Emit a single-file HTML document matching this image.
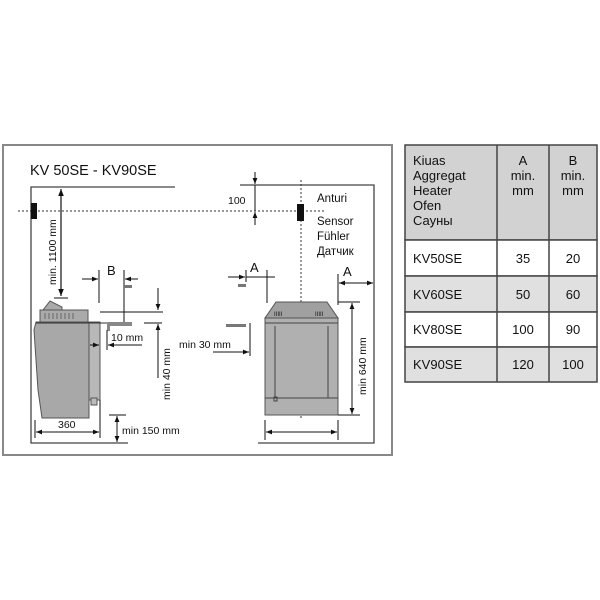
<!DOCTYPE html>
<html><head><meta charset="utf-8"><style>
html,body{margin:0;padding:0;background:#fff;}
svg{display:block;}
text{font-family:"Liberation Sans","DejaVu Sans",sans-serif;fill:#111;}
</style></head><body>
<svg width="600" height="600" viewBox="0 0 600 600" xmlns="http://www.w3.org/2000/svg">
<defs>
<marker id="ar" viewBox="0 0 10 10" refX="10" refY="5" markerWidth="6" markerHeight="6" orient="auto-start-reverse"><path d="M0,1 L10,5 L0,9 z" fill="#111"/></marker>
</defs>
<rect x="3" y="145" width="389" height="310" fill="#fff" stroke="#888" stroke-width="2"/>
<text x="30" y="175" font-size="14.5">KV 50SE - KV90SE</text>
<g stroke="#444" stroke-width="1.3" fill="none">
<polyline points="175,187 31,187 31,443 128,443"/>
<polyline points="240,185 374,185 374,443 258,443"/>
</g>
<line x1="18" y1="211" x2="325" y2="211" stroke="#333" stroke-width="1" stroke-dasharray="2,2"/>
<line x1="301" y1="180" x2="301" y2="418" stroke="#333" stroke-width="1" stroke-dasharray="2,2"/>
<rect x="31" y="203" width="6" height="16" fill="#111"/>
<rect x="297" y="204" width="7" height="17" fill="#111"/>
<line x1="61" y1="189" x2="61" y2="296" stroke="#111" stroke-width="1.2" marker-start="url(#ar)" marker-end="url(#ar)"/>
<line x1="54" y1="298" x2="68" y2="298" stroke="#111"/>
<text transform="translate(56,285) rotate(-90)" font-size="10.5">min. 1100 mm</text>
<g stroke="#555" stroke-width="1">
<polygon points="43,310 50,301 62,307 62,310" fill="#aaa"/>
<rect x="40" y="310" width="48" height="12" fill="#aaa"/>
<polygon points="36,322 89,322 89,418 42,418 38,390 34,330" fill="#a8a8a8"/>
<rect x="89" y="322" width="11" height="78" fill="#b8b8b8"/>
<rect x="91" y="398" width="6" height="7" fill="#bbb"/>
</g>
<g stroke="#666" stroke-width="1">
<line x1="45" y1="313" x2="45" y2="319"/><line x1="49" y1="313" x2="49" y2="319"/><line x1="53" y1="313" x2="53" y2="319"/><line x1="57" y1="313" x2="57" y2="319"/><line x1="61" y1="313" x2="61" y2="319"/><line x1="65" y1="313" x2="65" y2="319"/><line x1="69" y1="313" x2="69" y2="319"/><line x1="73" y1="313" x2="73" y2="319"/>
</g>
<line x1="36" y1="323" x2="130" y2="323" stroke="#333" stroke-width="1"/>
<text x="107" y="275" font-size="13">B</text>
<line x1="82" y1="279" x2="98" y2="279" stroke="#111" marker-end="url(#ar)"/>
<line x1="99" y1="270" x2="99" y2="303" stroke="#111"/>
<line x1="124" y1="270" x2="124" y2="323" stroke="#111"/>
<line x1="138" y1="279" x2="125" y2="279" stroke="#111" marker-end="url(#ar)"/>
<rect x="124" y="285" width="8" height="3" fill="#777"/>
<line x1="100" y1="312" x2="163" y2="312" stroke="#111"/>
<line x1="158" y1="288" x2="158" y2="310" stroke="#111" marker-end="url(#ar)"/>
<rect x="108" y="322" width="24" height="4" fill="#888"/>
<rect x="107" y="323" width="3" height="8" fill="#888"/>
<line x1="107" y1="330" x2="107" y2="350" stroke="#111"/>
<line x1="90" y1="345" x2="99" y2="345" stroke="#111" marker-end="url(#ar)"/>
<line x1="142" y1="345" x2="108" y2="345" stroke="#111" marker-end="url(#ar)"/>
<text x="111" y="341" font-size="10.5">10 mm</text>
<line x1="144" y1="323" x2="162" y2="323" stroke="#111"/>
<line x1="158" y1="378" x2="158" y2="324" stroke="#111" marker-end="url(#ar)"/>
<text transform="translate(170,400) rotate(-90)" font-size="10.5">min  40 mm</text>
<line x1="35" y1="420" x2="35" y2="438" stroke="#111"/>
<line x1="100" y1="400" x2="100" y2="438" stroke="#111"/>
<line x1="36" y1="432" x2="99" y2="432" stroke="#111" marker-start="url(#ar)" marker-end="url(#ar)"/>
<text x="58" y="428" font-size="10.5">360</text>
<line x1="109" y1="415" x2="126" y2="415" stroke="#111"/>
<line x1="117" y1="416" x2="117" y2="442" stroke="#111" marker-start="url(#ar)" marker-end="url(#ar)"/>
<text x="122" y="434" font-size="10.5">min 150 mm</text>
<text x="179" y="348" font-size="10.5">min 30 mm</text>
<rect x="226" y="324" width="20" height="3" fill="#777"/>
<line x1="250" y1="323" x2="250" y2="356" stroke="#111"/>
<line x1="213" y1="352" x2="249" y2="352" stroke="#111" marker-end="url(#ar)"/>
<line x1="284" y1="352" x2="269" y2="352" stroke="#111" marker-end="url(#ar)"/>
<text x="250" y="272" font-size="13">A</text>
<line x1="228" y1="277" x2="245" y2="277" stroke="#111" marker-end="url(#ar)"/>
<line x1="246" y1="270" x2="246" y2="282" stroke="#111"/>
<line x1="267" y1="270" x2="267" y2="303" stroke="#111"/>
<line x1="246" y1="277" x2="275" y2="277" stroke="#111"/>
<rect x="238" y="284" width="8" height="3" fill="#777"/>
<g stroke="#555" stroke-width="1">
<polygon points="276,302 327,302 338,318 265,318" fill="#a0a0a0"/>
<rect x="265" y="318" width="73" height="97" fill="#b0b0b0"/>
</g>
<g stroke="#444" stroke-width="1" fill="none">
<line x1="265" y1="323" x2="338" y2="323"/>
<line x1="275" y1="326" x2="275" y2="398"/>
<line x1="328" y1="326" x2="328" y2="398"/>
<line x1="265" y1="398" x2="338" y2="398"/>
<rect x="274" y="397" width="3" height="4"/>
</g>
<text x="274" y="316" font-size="6" fill="#333">IIIII</text>
<text x="315" y="316" font-size="6" fill="#333">IIIII</text>
<line x1="255" y1="172" x2="255" y2="184" stroke="#111" marker-end="url(#ar)"/>
<line x1="255" y1="225" x2="255" y2="212" stroke="#111" marker-end="url(#ar)"/>
<line x1="255" y1="185" x2="255" y2="211" stroke="#111"/>
<text x="228" y="204" font-size="10.5">100</text>
<text x="317" y="202" font-size="11.5">Anturi</text>
<text x="317" y="225" font-size="11.5">Sensor</text>
<text x="317" y="240" font-size="11.5">Fühler</text>
<text x="317" y="255" font-size="11.5">Датчик</text>
<text x="343" y="276" font-size="13">A</text>
<line x1="338" y1="274" x2="338" y2="305" stroke="#111"/>
<line x1="339" y1="283" x2="373" y2="283" stroke="#111" marker-start="url(#ar)" marker-end="url(#ar)"/>
<line x1="338" y1="302" x2="360" y2="302" stroke="#111"/>
<line x1="338" y1="415" x2="360" y2="415" stroke="#111"/>
<line x1="352" y1="303" x2="352" y2="414" stroke="#111" marker-start="url(#ar)" marker-end="url(#ar)"/>
<text transform="translate(366,395) rotate(-90)" font-size="10.5">min  640 mm</text>
<line x1="265" y1="420" x2="265" y2="440" stroke="#111"/>
<line x1="338" y1="420" x2="338" y2="440" stroke="#111"/>
<line x1="266" y1="432" x2="337" y2="432" stroke="#111" marker-start="url(#ar)" marker-end="url(#ar)"/>
<g stroke="#444" stroke-width="1.5">
<rect x="405" y="145" width="192" height="95" fill="#d2d2d2"/>
<rect x="405" y="240" width="192" height="36" fill="#fff"/>
<rect x="405" y="276" width="192" height="36" fill="#e0e0e0"/>
<rect x="405" y="312" width="192" height="35" fill="#fff"/>
<rect x="405" y="347" width="192" height="35" fill="#e0e0e0"/>
<line x1="497" y1="145" x2="497" y2="382"/>
<line x1="549" y1="145" x2="549" y2="382"/>
</g>
<g font-size="13">
<text x="413" y="165">Kiuas</text>
<text x="413" y="180">Aggregat</text>
<text x="413" y="195">Heater</text>
<text x="413" y="210">Ofen</text>
<text x="413" y="225">Сауны</text>
<text x="523" y="165" text-anchor="middle">A</text>
<text x="523" y="180" text-anchor="middle">min.</text>
<text x="523" y="195" text-anchor="middle">mm</text>
<text x="573" y="165" text-anchor="middle">B</text>
<text x="573" y="180" text-anchor="middle">min.</text>
<text x="573" y="195" text-anchor="middle">mm</text>
<text x="413" y="263">KV50SE</text><text x="523" y="263" text-anchor="middle">35</text><text x="573" y="263" text-anchor="middle">20</text>
<text x="413" y="299">KV60SE</text><text x="523" y="299" text-anchor="middle">50</text><text x="573" y="299" text-anchor="middle">60</text>
<text x="413" y="334">KV80SE</text><text x="523" y="334" text-anchor="middle">100</text><text x="573" y="334" text-anchor="middle">90</text>
<text x="413" y="369">KV90SE</text><text x="523" y="369" text-anchor="middle">120</text><text x="573" y="369" text-anchor="middle">100</text>
</g>
</svg>
</body></html>
